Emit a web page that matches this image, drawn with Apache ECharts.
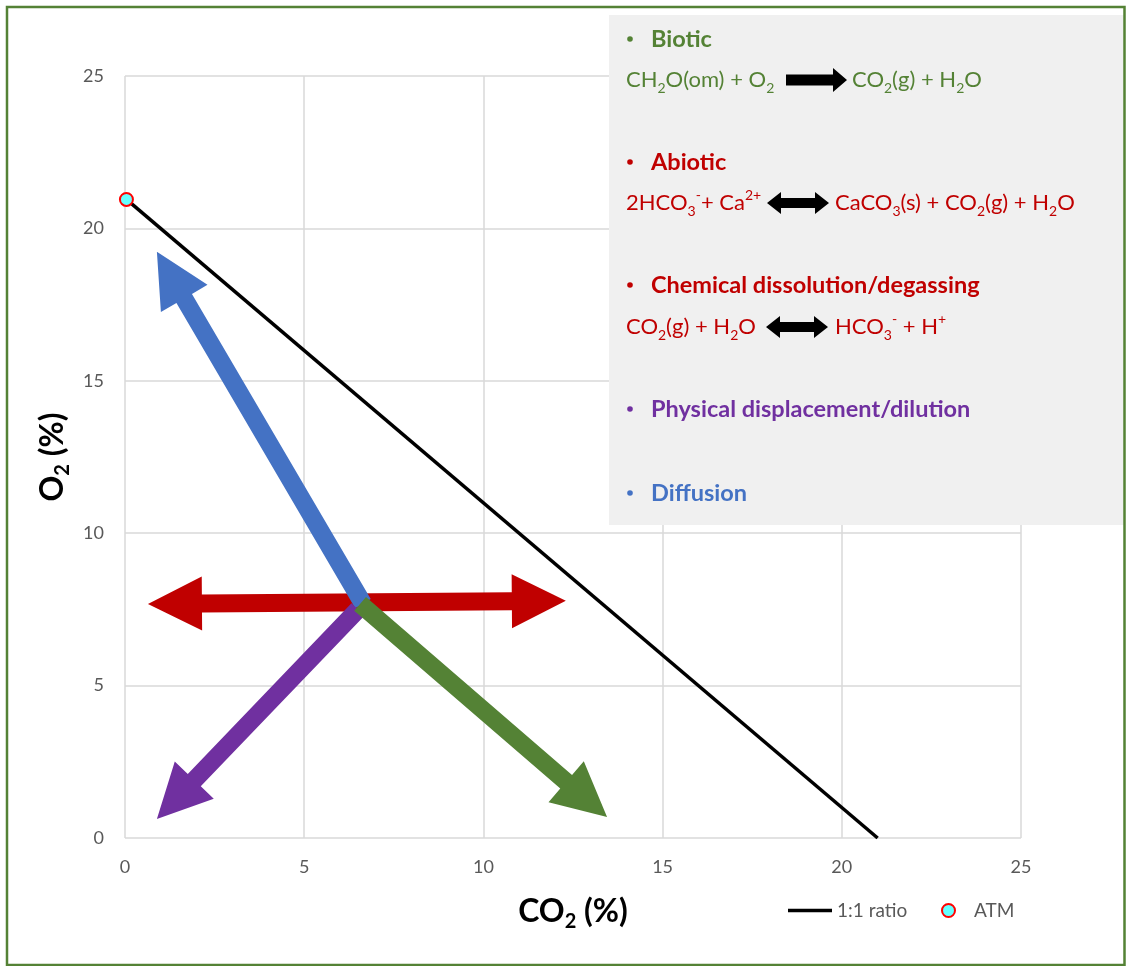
<!DOCTYPE html>
<html>
<head>
<meta charset="utf-8">
<script src="https://cdn.jsdelivr.net/npm/echarts@6/dist/echarts.min.js"></script>
<style>
  html, body { margin: 0; padding: 0; background: #ffffff; }
  #chart { width: 1128px; height: 966px; }
</style>
</head>
<body>
<div id="chart"></div>
<script>
// Axis ticks (percent)
const axisTicks = [0, 5, 10, 15, 20, 25];

// 1:1 ratio line, from atmospheric composition down to O2 = 0
const ratioCO2 = [0.04, 21.0];
const ratioO2 = [20.95, 0];

// Atmospheric composition point
const atmCO2 = [0.04];
const atmO2 = [20.95];

// Process arrows (start / end in CO2 %, O2 %)
const processNames = ['Abiotic', 'Diffusion', 'Physical displacement/dilution', 'Biotic'];
const arrowStartCO2 = [0.64, 6.64, 6.5, 6.56];
const arrowStartO2 = [7.68, 7.69, 7.5, 7.68];
const arrowEndCO2 = [12.3, 0.89, 0.89, 13.45];
const arrowEndO2 = [7.78, 19.23, 0.62, 0.69];
const arrowDoubleHeaded = [1, 0, 0, 0];
const arrowColors = ['#c00000', '#4472c4', '#7030a0', '#548235'];

const FONT = 'Lato, "Open Sans", sans-serif';
const PANEL_Z = 100;

const arrowData = arrowStartCO2.map((x, i) => [
  x, arrowStartO2[i], arrowEndCO2[i], arrowEndO2[i], arrowDoubleHeaded[i], i
]);

// Build an arrow polygon (pixel space) between two points
function arrowPoints(p1, p2, shaft, headLen, headWidth, both) {
  const dx = p2[0] - p1[0], dy = p2[1] - p1[1];
  const len = Math.sqrt(dx * dx + dy * dy);
  const ux = dx / len, uy = dy / len;
  const nx = -uy, ny = ux;
  const hs = shaft / 2, hw = headWidth / 2;
  const at = (p, along, side) => [p[0] + ux * along + nx * side, p[1] + uy * along + ny * side];
  const pts = [];
  if (both) {
    pts.push(p1);
    pts.push(at(p1, headLen, hw));
    pts.push(at(p1, headLen, hs));
  } else {
    pts.push(at(p1, 0, hs));
  }
  pts.push(at(p2, -headLen, hs));
  pts.push(at(p2, -headLen, hw));
  pts.push(p2);
  pts.push(at(p2, -headLen, -hw));
  pts.push(at(p2, -headLen, -hs));
  if (both) {
    pts.push(at(p1, headLen, -hs));
    pts.push(at(p1, headLen, -hw));
  } else {
    pts.push(at(p1, 0, -hs));
  }
  return pts;
}

// Horizontal black reaction arrows inside the annotation panel
function reactionArrow(x1, x2, y, both) {
  const shaft = both ? 10 : 11, headLen = 14, headH = both ? 22 : 24;
  const pts = [];
  if (both) {
    pts.push([x1, y], [x1 + headLen, y - headH / 2], [x1 + headLen, y - shaft / 2]);
  } else {
    pts.push([x1, y - shaft / 2]);
  }
  pts.push([x2 - headLen, y - shaft / 2], [x2 - headLen, y - headH / 2], [x2, y],
           [x2 - headLen, y + headH / 2], [x2 - headLen, y + shaft / 2]);
  if (both) {
    pts.push([x1 + headLen, y + shaft / 2], [x1 + headLen, y + headH / 2]);
  } else {
    pts.push([x1, y + shaft / 2]);
  }
  return { type: 'polygon', z: PANEL_Z + 1, shape: { points: pts }, style: { fill: '#000000' } };
}

function chemRich(color) {
  return {
    t: { fontFamily: FONT, fontSize: 22, color: color, lineHeight: 30 },
    s: { fontFamily: FONT, fontSize: 14, color: color, lineHeight: 14, verticalAlign: 'bottom' },
    p: { fontFamily: FONT, fontSize: 14, color: color, lineHeight: 22, verticalAlign: 'top' }
  };
}

function chemText(x, y, text, color) {
  return {
    type: 'text',
    z: PANEL_Z + 1,
    style: { x: x, y: y, text: text, rich: chemRich(color), verticalAlign: 'middle', align: 'left', fill: color }
  };
}

function heading(y, text, color) {
  return [
    { type: 'circle', z: PANEL_Z + 1, shape: { cx: 630, cy: y, r: 2.8 }, style: { fill: color } },
    {
      type: 'text',
      z: PANEL_Z + 1,
      style: {
        x: 651, y: y, text: text, fill: color,
        font: 'bold 23.5px ' + FONT, verticalAlign: 'middle', align: 'left'
      }
    }
  ];
}

const panelItems = [
  { type: 'rect', z: PANEL_Z, shape: { x: 609, y: 15, width: 515, height: 510 }, style: { fill: '#f0f0f0' } },
  ...heading(39, 'Biotic', '#548235'),
  chemText(626, 80, '{t|CH}{s|2}{t|O(om) + O}{s|2}', '#548235'),
  reactionArrow(786, 847, 80, false),
  chemText(852, 80, '{t|CO}{s|2}{t|(g) + H}{s|2}{t|O}', '#548235'),
  ...heading(162, 'Abiotic', '#c00000'),
  chemText(626, 203, '{t|2HCO}{s|3}{p|-}{t|+ Ca}{p|2+}', '#c00000'),
  reactionArrow(767, 829, 203, true),
  chemText(835, 203, '{t|CaCO}{s|3}{t|(s) + CO}{s|2}{t|(g) + H}{s|2}{t|O}', '#c00000'),
  ...heading(285, 'Chemical dissolution/degassing', '#c00000'),
  chemText(626, 327, '{t|CO}{s|2}{t|(g) + H}{s|2}{t|O}', '#c00000'),
  reactionArrow(766, 828, 327, true),
  chemText(835, 327, '{t|HCO}{s|3}{p|-}{t| + H}{p|+}', '#c00000'),
  ...heading(409, 'Physical displacement/dilution', '#7030a0'),
  ...heading(493, 'Diffusion', '#4472c4')
];

const frame = {
  type: 'rect',
  z: PANEL_Z + 5,
  shape: { x: 7, y: 7, width: 1117.5, height: 958 },
  style: { fill: 'none', stroke: '#548235', lineWidth: 2.5 }
};

const chart = echarts.init(document.getElementById('chart'), null, { renderer: 'canvas' });

const axisNameRich = {
  b: { fontFamily: FONT, fontWeight: 'bold', fontSize: 32, color: '#000000', lineHeight: 40 },
  bs: { fontFamily: FONT, fontWeight: 'bold', fontSize: 20, color: '#000000', lineHeight: 20, verticalAlign: 'bottom' }
};

const option = {
  animation: false,
  backgroundColor: '#ffffff',
  grid: { left: 125, right: 107, top: 76, bottom: 128 },
  xAxis: {
    type: 'value',
    min: axisTicks[0], max: axisTicks[axisTicks.length - 1], interval: 5,
    axisLine: { show: false }, axisTick: { show: false },
    splitLine: { show: true, lineStyle: { color: '#d9d9d9', width: 1.5 } },
    axisLabel: { color: '#595959', fontFamily: FONT, fontSize: 18, margin: 20 },
    name: '{b|CO}{bs|2}{b| (%)}',
    nameLocation: 'middle',
    nameGap: 54,
    nameTextStyle: { rich: axisNameRich }
  },
  yAxis: {
    type: 'value',
    min: axisTicks[0], max: axisTicks[axisTicks.length - 1], interval: 5,
    axisLine: { show: false }, axisTick: { show: false },
    splitLine: { show: true, lineStyle: { color: '#d9d9d9', width: 1.5 } },
    axisLabel: { color: '#595959', fontFamily: FONT, fontSize: 18, margin: 21 },
    name: '{b|O}{bs|2}{b| (%)}',
    nameLocation: 'middle',
    nameGap: 49,
    nameTextStyle: { rich: axisNameRich }
  },
  legend: [
    {
      data: [{ name: '1:1 ratio', icon: 'rect' }],
      left: 788, top: 901, padding: 0,
      itemWidth: 44, itemHeight: 3.5,
      itemStyle: { color: '#000000' },
      textStyle: { color: '#595959', fontFamily: FONT, fontSize: 19 }
    },
    {
      data: ['ATM'],
      left: 941, top: 901, padding: 0,
      itemWidth: 13, itemHeight: 13,
      textStyle: { color: '#595959', fontFamily: FONT, fontSize: 19, padding: [0, 0, 0, 14] }
    }
  ],
  series: [
    {
      name: 'Processes',
      type: 'custom',
      z: 3,
      data: arrowData,
      encode: { x: [0, 2], y: [1, 3] },
      renderItem: function (params, api) {
        const p1 = api.coord([api.value(0), api.value(1)]);
        const p2 = api.coord([api.value(2), api.value(3)]);
        const idx = api.value(5);
        return {
          type: 'polygon',
          shape: { points: arrowPoints(p1, p2, 18, 54, 54, api.value(4) === 1) },
          style: { fill: arrowColors[idx] }
        };
      }
    },
    {
      name: '1:1 ratio',
      type: 'line',
      z: 4,
      data: ratioCO2.map((x, i) => [x, ratioO2[i]]),
      showSymbol: false,
      symbol: 'none',
      lineStyle: { color: '#000000', width: 3.5 },
      itemStyle: { color: '#000000' }
    },
    {
      name: 'ATM',
      type: 'scatter',
      z: 5,
      data: atmCO2.map((x, i) => [x, atmO2[i]]),
      symbol: 'circle',
      symbolSize: 13,
      itemStyle: { color: '#66ffff', borderColor: '#ff0000', borderWidth: 2, opacity: 1 }
    }
  ],
  graphic: panelItems.concat([frame])
};

chart.setOption(option);
</script>
</body>
</html>
